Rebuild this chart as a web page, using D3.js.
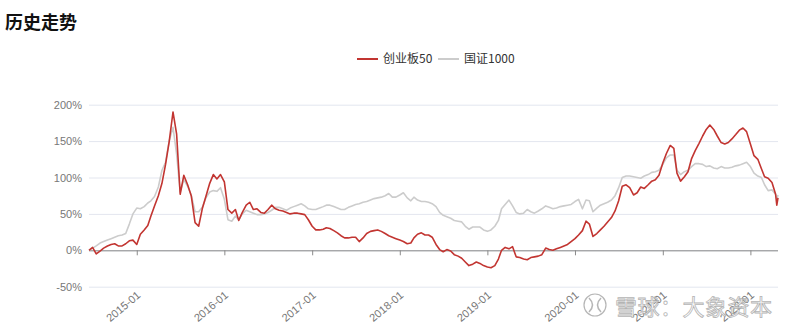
<!DOCTYPE html>
<html><head><meta charset="utf-8">
<script src="https://cdn.jsdelivr.net/npm/d3@7"></script>
<style>body{margin:0;background:#fff}svg{display:block}</style>
</head><body>
<svg id="chart" width="800" height="333"></svg>
<script>
const dates = [
"2014-06-16","2014-07-01","2014-07-16","2014-08-01","2014-08-16","2014-09-01","2014-09-16","2014-10-01","2014-10-16","2014-11-01","2014-11-16","2014-12-01","2014-12-16",
"2015-01-01","2015-01-16","2015-02-01","2015-02-16","2015-03-01","2015-03-16","2015-04-01","2015-04-16","2015-05-01","2015-05-16","2015-06-01","2015-06-16","2015-07-01","2015-07-16","2015-08-01","2015-08-16","2015-09-01","2015-09-16","2015-10-01","2015-10-16","2015-11-01","2015-11-16","2015-12-01","2015-12-16",
"2016-01-01","2016-01-16","2016-02-01","2016-02-16","2016-03-01","2016-03-16","2016-04-01","2016-04-16","2016-05-01","2016-05-16","2016-06-01","2016-06-16","2016-07-01","2016-07-16","2016-08-01","2016-08-16","2016-09-01","2016-09-16","2016-10-01","2016-10-16","2016-11-01","2016-11-16","2016-12-01","2016-12-16",
"2017-01-01","2017-01-16","2017-02-01","2017-02-16","2017-03-01","2017-03-16","2017-04-01","2017-04-16","2017-05-01","2017-05-16","2017-06-01","2017-06-16","2017-07-01","2017-07-16","2017-08-01","2017-08-16","2017-09-01","2017-09-16","2017-10-01","2017-10-16","2017-11-01","2017-11-16","2017-12-01","2017-12-16",
"2018-01-01","2018-01-16","2018-02-01","2018-02-16","2018-03-01","2018-03-16","2018-04-01","2018-04-16","2018-05-01","2018-05-16","2018-06-01","2018-06-16","2018-07-01","2018-07-16","2018-08-01","2018-08-16","2018-09-01","2018-09-16","2018-10-01","2018-10-16","2018-11-01","2018-11-16","2018-12-01","2018-12-16",
"2019-01-01","2019-01-16","2019-02-01","2019-02-16","2019-03-01","2019-03-16","2019-04-01","2019-04-16","2019-05-01","2019-05-16","2019-06-01","2019-06-16","2019-07-01","2019-07-16","2019-08-01","2019-08-16","2019-09-01","2019-09-16","2019-10-01","2019-10-16","2019-11-01","2019-11-16","2019-12-01","2019-12-16",
"2020-01-01","2020-01-16","2020-02-01","2020-02-16","2020-03-01","2020-03-16","2020-04-01","2020-04-16","2020-05-01","2020-05-16","2020-06-01","2020-06-16","2020-07-01","2020-07-16","2020-08-01","2020-08-16","2020-09-01","2020-09-16","2020-10-01","2020-10-16","2020-11-01","2020-11-16","2020-12-01","2020-12-16",
"2021-01-01","2021-01-16","2021-02-01","2021-02-16","2021-03-01","2021-03-16","2021-04-01","2021-04-16","2021-05-01","2021-05-16","2021-06-01","2021-06-16","2021-07-01","2021-07-16","2021-08-01","2021-08-16","2021-09-01","2021-09-16","2021-10-01","2021-10-16","2021-11-01","2021-11-16","2021-12-01","2021-12-16",
"2022-01-01","2022-01-16","2022-02-01","2022-02-16","2022-03-01","2022-03-16","2022-04-01","2022-04-16","2022-04-21","2022-04-26"
];

// 创业板50 cumulative return (%)
const cyb50 = [
0,4,-5,-1,3,6,8,9,6,6,9,13,14,
8,22,28,34,47,61,75,92,118,149,190,160,77,103,90,75,38,33,57,74,92,104,98,104,
94,56,51,56,41,52,62,66,56,57,52,51,56,62,57,55,54,52,50,51,51,50,49,42,
33,28,28,29,31,30,27,24,20,17,17,18,18,12,17,23,26,27,28,26,23,20,18,16,
14,12,9,10,17,22,24,21,21,18,8,1,-2,1,-1,-6,-8,-11,-16,-21,-19,-16,-18,-21,
-23,-24,-21,-12,0,4,2,5,-9,-10,-12,-13,-10,-9,-8,-6,3,1,0,2,4,6,8,12,
16,21,27,40,36,19,23,28,33,39,45,54,68,88,90,86,76,79,87,85,90,95,97,103,
120,133,144,140,106,95,101,108,126,137,147,157,166,172,166,157,148,146,148,153,159,165,168,163,
146,130,125,112,101,99,93,77,62,72
];

// 国证1000 cumulative return (%)
const gz1000 = [
0,3,6,10,12,14,16,18,20,21,23,36,50,
58,57,60,65,68,74,87,110,121,150,169,132,80,97,88,76,53,53,59,72,80,82,81,86,
70,42,40,47,42,50,55,53,51,49,49,50,52,55,59,59,57,55,58,60,62,64,61,57,
56,56,58,60,62,62,60,58,56,56,59,61,63,64,66,67,69,71,72,73,75,78,73,73,
76,79,72,68,73,69,67,67,66,64,60,52,48,46,44,41,40,39,33,29,32,32,32,28,
26,28,33,41,57,63,69,61,52,50,51,56,53,51,54,57,61,59,57,58,60,61,62,63,
67,70,57,69,68,53,58,62,64,66,69,75,86,100,102,102,101,100,99,102,104,107,108,110,
118,127,131,131,110,104,108,110,115,119,119,118,115,116,113,112,115,113,113,114,116,117,119,121,
115,106,102,100,90,82,83,77,70,76
];

const seriesNames = ["创业板50", "国证1000"];
const seriesColors = ["#c23531", "#cccccc"];
const yTicks = [-50, 0, 50, 100, 150, 200];
const xTickLabels = ["2015-01","2016-01","2017-01","2018-01","2019-01","2020-01","2021-01","2022-01"];
const titleText = "历史走势";
const watermarkText = "雪球：大象资本";

(function () {
const parse = d3.timeParse("%Y-%m-%d");
const parseM = d3.timeParse("%Y-%m");
const n = Math.min(dates.length, cyb50.length, gz1000.length);
const rows = d3.range(n).map(i => ({date: parse(dates[i]), a: cyb50[i], b: gz1000[i]}));

const svg = d3.select("#chart");
const pLeft = 89, pRight = 778, pTop = 104.7, pBottom = 286.7;

const x = d3.scaleTime().domain(d3.extent(rows, d => d.date)).range([pLeft, pRight]);
const y = d3.scaleLinear().domain([-50, 200]).range([pBottom, pTop]);

const cjk = "'Noto Sans CJK SC', 'Noto Sans', sans-serif";
const lat = "'Liberation Sans', Arial, 'Noto Sans CJK SC', sans-serif";

svg.append("text").attr("x", 5).attr("y", 29).text(titleText)
  .attr("font-family", cjk).attr("font-weight", "bold").attr("font-size", 18).attr("fill", "#111");

const yAxis = d3.axisLeft(y).tickValues(yTicks).tickSize(-(pRight - pLeft)).tickPadding(7)
  .tickFormat(d => d + "%");
const gy = svg.append("g").attr("transform", `translate(${pLeft},0)`).call(yAxis);
gy.select(".domain").remove();
gy.selectAll(".tick line").attr("stroke", "#e3e6ef").attr("stroke-width", 1);
gy.selectAll(".tick text").attr("font-family", lat).attr("font-size", 11).attr("fill", "#777");

const xTicks = xTickLabels.map(s => parseM(s));
const xAxis = d3.axisBottom(x).tickValues(xTicks).tickSize(5).tickFormat(d3.timeFormat("%Y-%m"));
const gx = svg.append("g").attr("transform", `translate(0,${y(0)})`).call(xAxis);
gx.select(".domain").attr("stroke", "#8a8a8a").attr("d", `M${pLeft},0.5H${pRight}`);
gx.selectAll(".tick line").attr("stroke", "#8a8a8a");
gx.selectAll(".tick text")
  .attr("font-family", lat).attr("font-size", 11).attr("fill", "#777")
  .attr("text-anchor", "end")
  .attr("y", 0).attr("x", 2).attr("dy", "0.35em")
  .attr("transform", `translate(0,${pBottom - y(0) + 8}) rotate(-40)`);

const lineA = d3.line().x(d => x(d.date)).y(d => y(d.a));
const lineB = d3.line().x(d => x(d.date)).y(d => y(d.b));
svg.append("path").datum(rows).attr("d", lineB).attr("fill", "none")
  .attr("stroke", seriesColors[1]).attr("stroke-width", 1.6).attr("stroke-linejoin", "round");
svg.append("path").datum(rows).attr("d", lineA).attr("fill", "none")
  .attr("stroke", seriesColors[0]).attr("stroke-width", 1.6).attr("stroke-linejoin", "round");

const legendX = [357, 438];
seriesNames.forEach((name, i) => {
  const g = svg.append("g").attr("transform", `translate(${legendX[i]},59)`);
  g.append("line").attr("x1", 0).attr("x2", 21).attr("y1", 0).attr("y2", 0)
    .attr("stroke", seriesColors[i]).attr("stroke-width", 2);
  g.append("text").attr("x", 26).attr("y", 4).text(name)
    .attr("font-family", cjk).attr("font-size", 12).attr("fill", "#333");
});

const wm = svg.append("g").attr("opacity", 0.85);
wm.append("circle").attr("cx", 595).attr("cy", 305).attr("r", 11)
  .attr("fill", "white").attr("stroke", "#aaa").attr("stroke-width", 1.2);
wm.append("path").attr("d", "M589,298 Q596,305 589,312 M601,298 Q594,305 601,312")
  .attr("fill", "none").attr("stroke", "#aaa").attr("stroke-width", 1.5);
wm.append("text").attr("x", 615).attr("y", 315).text(watermarkText)
  .attr("font-family", cjk).attr("font-size", 22).attr("fill", "white")
  .attr("stroke", "#a8a8a8").attr("stroke-width", 0.8).attr("letter-spacing", 0.5);
})();
</script>
</body></html>
